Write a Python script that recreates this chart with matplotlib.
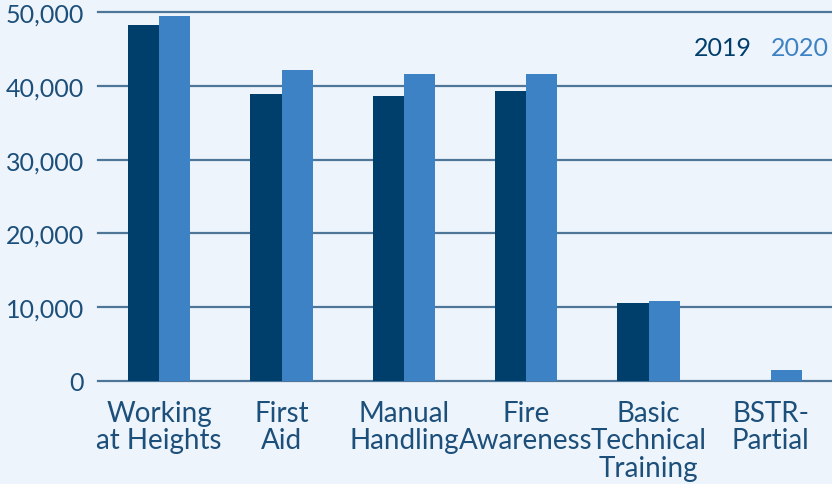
import matplotlib.pyplot as plt
import numpy as np

# Training courses delivered, 2019 vs 2020
categories = ["Working\nat Heights", "First\nAid", "Manual\nHandling", "Fire\nAwareness",
              "Basic\nTechnical\nTraining", "BSTR-\nPartial"]
values_2019 = [48200, 38900, 38600, 39300, 10600, 0]
values_2020 = [49500, 42100, 41600, 41600, 10800, 1500]
yticks = [0, 10000, 20000, 30000, 40000, 50000]

bg = "#eef4fb"
dark = "#003f6b"
light = "#3d82c4"
text_col = "#1c4f7a"
grid_col = "#4d7699"

plt.rcParams['font.family'] = ['Lato', 'DejaVu Sans']

fig = plt.figure(figsize=(8.32, 4.85), dpi=100, facecolor=bg)
ax = fig.add_axes([0.1178, 0.2124, 0.8822, 0.7608], facecolor=bg)

x = np.arange(len(categories))
w = 0.254
ax.bar(x - w / 2, values_2019, width=w, color=dark, zorder=3)
ax.bar(x + w / 2, values_2020, width=w, color=light, zorder=3)

ax.set_xlim(-0.5, 5.5)
ax.set_ylim(0, 50000)
ax.set_yticks(yticks)
ax.set_yticklabels([f"{v:,}" for v in yticks], fontsize=18, color=text_col)
ax.set_xticks(x)
ax.set_xticklabels(categories, fontsize=20, color=text_col, linespacing=1.05)
ax.tick_params(axis='y', length=0, pad=10)
ax.tick_params(axis='x', length=0, pad=14)

for v in yticks:
    ax.axhline(v, color=grid_col, lw=1.6, zorder=1, clip_on=False)
for s in ax.spines.values():
    s.set_visible(False)

fig.text(0.904, 0.9, "2019", fontsize=18, color=dark, ha='right', va='center')
fig.text(0.926, 0.9, "2020", fontsize=18, color=light, ha='left', va='center')

fig.savefig("out.png", dpi=100, facecolor=bg)
